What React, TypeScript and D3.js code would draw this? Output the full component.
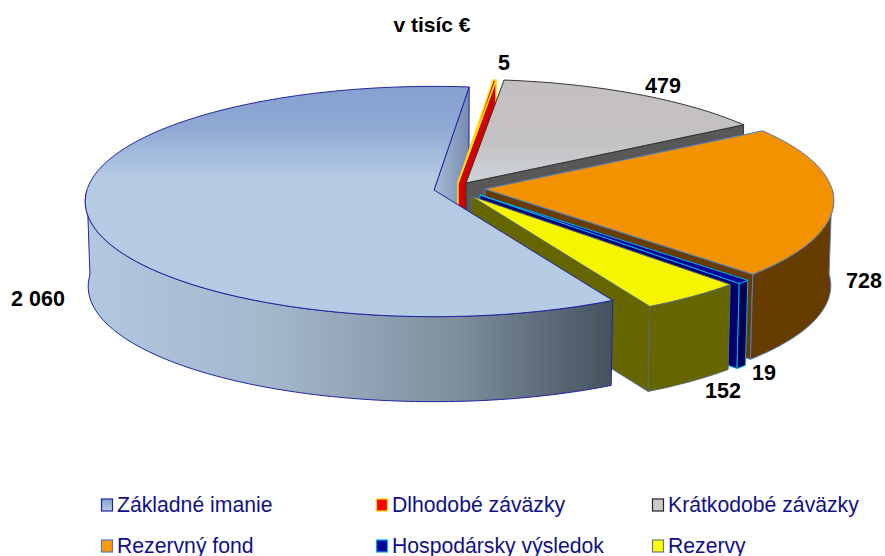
import React from 'react'
import * as d3 from 'd3'

const categories = ['Základné imanie', 'Dlhodobé záväzky', 'Krátkodobé záväzky', 'Rezervný fond', 'Hospodársky výsledok', 'Rezervy']
const values = [2060, 5, 479, 728, 19, 152]
const valueLabels = ['2 060', '5', '479', '728', '19', '152']
const topColors = ['url(#blueTop)', '#d40000', 'url(#grayTop)', '#f39200', '#000099', '#f5f500']
const wallColors = ['url(#blueWall)', '#d40000', '#585858', '#663c00', '#00006e', '#666600']
const sideColors = ['url(#blueSide)', '#a00000', '#585858', '#663c00', '#000050', '#666600']
const strokeColors = ['#2222a0', '#ffe000', '#333333', '#4f7ec4', '#00b0f0', '#55677a']
const legendSwatches = ['url(#blueLegend)', '#ff0000', '#cccccc', '#ff9900', '#000099', '#ffff00']
const legendStrokes = ['#2222a0', '#ffe000', '#222222', '#4f7ec4', '#00b0f0', '#667788']

const width = 885
const height = 556
const rx = 347
const ry = 114
const depth = 85
const persp = 0.1

// where each exploded slice has its tip
const tips: [number, number][] = [[434, 190], [458, 183], [466, 183], [485, 189], [480, 195], [471, 196]]
const labelSpots: [number, number][] = [[38, 306], [504, 70], [663, 93], [864, 288], [764, 380], [723, 398]]
const legendSpots: [number, number][] = [[101, 512], [376, 512], [652, 512], [101, 553], [376, 553], [652, 553]]

const rad = (deg: number) => deg * Math.PI / 180

const pie = d3.pie<number>().sort(null).startAngle(rad(152)).endAngle(rad(152 + 360))
const arcs = pie(values)

const project = (tip: [number, number], angle: number, drop = 0): [number, number] => {
  // slight pull of the far rim, the picture's perspective is not a clean ellipse
  const a = angle - rad(1) * Math.max(0, Math.cos(angle))
  const s = 1 / (1 + persp * Math.cos(a))
  const shrink = 1 - drop * 0.0001
  return [tip[0] + rx * Math.sin(a) * s * shrink, tip[1] - ry * Math.cos(a) * s + drop]
}

const line = d3.line()
const sweep = (a0: number, a1: number) => {
  const n = Math.max(2, Math.ceil((a1 - a0) / rad(1)))
  return d3.range(n + 1).map(i => a0 + (a1 - a0) * i / n)
}

const App = () => (
  <svg width={width} height={height} style={{ position: 'absolute', left: 0, top: 0, background: '#fff' }} fontFamily="'Liberation Sans', Arial, sans-serif">
    <defs>
      <linearGradient id="blueTop" gradientUnits="userSpaceOnUse" x1="0" y1="86" x2="0" y2="320">
        <stop offset="0" stopColor="#86a0d0" />
        <stop offset="0.18" stopColor="#8fa9d4" />
        <stop offset="0.4" stopColor="#b5cbe4" />
        <stop offset="1" stopColor="#b6cce4" />
      </linearGradient>
      <linearGradient id="blueWall" gradientUnits="userSpaceOnUse" x1="434" y1="0" x2="474" y2="0">
        <stop offset="0" stopColor="#a9bdd6" />
        <stop offset="1" stopColor="#6f83ad" />
      </linearGradient>
      <linearGradient id="blueSide" gradientUnits="userSpaceOnUse" x1="84" y1="0" x2="613" y2="0">
        <stop offset="0" stopColor="#b2c8e0" />
        <stop offset="0.35" stopColor="#a4b8cc" />
        <stop offset="0.7" stopColor="#7f8f9f" />
        <stop offset="1" stopColor="#45525e" />
      </linearGradient>
      <linearGradient id="grayTop" gradientUnits="userSpaceOnUse" x1="0" y1="80" x2="0" y2="190">
        <stop offset="0" stopColor="#c4c0c0" />
        <stop offset="0.55" stopColor="#c4c1c2" />
        <stop offset="1" stopColor="#ced6e0" />
      </linearGradient>
      <linearGradient id="blueLegend" x1="0" y1="0" x2="0" y2="1">
        <stop offset="0" stopColor="#86a0d0" />
        <stop offset="1" stopColor="#b6cce4" />
      </linearGradient>
    </defs>

    <text x={432} y={32} textAnchor="middle" fontSize={21} fontWeight="bold">v tisíc €</text>

    {/* painted back to front: the big slice's wall first, its face last */}
    {arcs.map((d, i) => {
      const tip = tips[i]
      const stroke = strokeColors[i]
      const sw = i === 1 ? 1.5 : 1
      const wall = [tip, project(tip, d.endAngle), project(tip, d.endAngle, depth), [tip[0], tip[1] + depth]] as [number, number][]
      const base = d.startAngle >= 2 * Math.PI ? 2 * Math.PI : 0
      const lo = Math.max(d.startAngle, base + Math.PI / 2)
      const hi = Math.min(d.endAngle, base + 1.5 * Math.PI)
      return (
        <g key={categories[i]} strokeLinejoin="round">
          <path d={line(wall) + 'Z'} fill={wallColors[i]} stroke={stroke} strokeWidth={sw} />
          {i !== 0 && lo < hi && <path d={line([
            ...sweep(lo, hi).map(a => project(tip, a)),
            ...sweep(lo, hi).reverse().map(a => project(tip, a, depth))
          ]) + 'Z'} fill={sideColors[i]} stroke={stroke} strokeWidth={sw} />}
          {i !== 0 && <path d={line([tip, ...sweep(d.startAngle, d.endAngle).map(a => project(tip, a))]) + 'Z'} fill={topColors[i]} stroke={stroke} strokeWidth={sw} />}
        </g>
      )
    })}
    {(() => {
      const d = arcs[0]
      const tip = tips[0]
      const pts = sweep(d.startAngle, rad(270))
      return (
        <g strokeLinejoin="round">
          <path d={line([...pts.map(a => project(tip, a)), ...pts.slice().reverse().map(a => project(tip, a, depth))]) + 'Z'} fill={sideColors[0]} stroke={strokeColors[0]} />
          <path d={line([tip, ...sweep(d.startAngle, d.endAngle).map(a => project(tip, a))]) + 'Z'} fill={topColors[0]} stroke={strokeColors[0]} />
        </g>
      )
    })()}

    {valueLabels.map((t, i) => (
      <text key={t} x={labelSpots[i][0]} y={labelSpots[i][1]} textAnchor="middle" fontSize={21.5} fontWeight="bold">{t}</text>
    ))}

    {categories.map((c, i) => (
      <g key={c}>
        <rect x={legendSpots[i][0] + 0.5} y={legendSpots[i][1] - 13} width={11} height={12} fill={legendSwatches[i]} stroke={legendStrokes[i]} strokeWidth={1.2} />
        <text x={legendSpots[i][0] + 16} y={legendSpots[i][1]} fontSize={21.2} fill="#10108a">{c}</text>
      </g>
    ))}
  </svg>
)

export default App
